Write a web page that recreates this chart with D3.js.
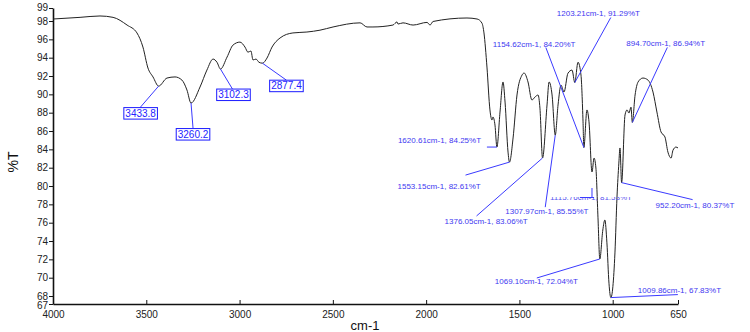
<!DOCTYPE html>
<html>
<head>
<meta charset="utf-8">
<title>IR</title>
<script src="https://cdn.jsdelivr.net/npm/d3@7/dist/d3.min.js"></script>
<style>
  body { margin: 0; background: #fff; }
  text { font-family: "Liberation Sans", Arial, sans-serif; }
</style>
</head>
<body>
<svg width="750" height="332" id="mainsvg" style="display:block"></svg>
<script>
// spectrum
const wavenumber = [4000, 3855, 3748, 3678, 3603, 3550, 3518, 3491, 3464, 3433.8,
  3389, 3346, 3309, 3282, 3260.2, 3212, 3175, 3142, 3121, 3102.3,
  3067, 3035, 2998, 2971, 2955, 2939, 2928, 2912, 2896, 2877.4,
  2853, 2826, 2783, 2714, 2639, 2569, 2499, 2354, 2317, 2285,
  2178, 2156, 2151, 2124, 2070, 1995, 1979, 1963, 1781, 1727,
  1701, 1690, 1674, 1658, 1647, 1642, 1631, 1620.61, 1604, 1588,
  1577, 1561, 1553.15, 1534, 1513, 1486, 1475, 1454, 1433, 1417,
  1400, 1390, 1376.05, 1352, 1341, 1325, 1307.97, 1293, 1277, 1261,
  1240, 1218, 1203.21, 1186, 1170, 1159, 1154.62, 1138, 1127, 1111,
  1100, 1090, 1079, 1069.10, 1053, 1042, 1031, 1020, 1009.86, 988,
  977, 967, 961, 952.20, 934, 923, 913, 902, 894.70, 880,
  864, 838, 811, 784, 763, 741, 720, 704, 687, 677,
  661, 650];
const transmittance = [98.22, 98.4, 98.55, 98.4, 97.56, 96.7, 95.16, 92.87, 91.9, 90.9,
  91.78, 91.9, 91.56, 90.47, 89.05, 90.8, 92.65, 93.85, 93.5, 92.76,
  94.07, 95.38, 95.7, 95.16, 94.6, 94.73, 93.75, 93.85, 93.5, 93.4,
  93.96, 95.16, 96.15, 96.7, 96.8, 97.0, 97.35, 97.8, 97.35, 97.35,
  97.56, 97.9, 97.67, 97.8, 97.56, 97.85, 97.56, 97.95, 98.33, 98.22,
  97.78, 96.7, 92.98, 88.3, 87.2, 87.53, 86.65, 84.25, 88.07, 91.35,
  89.16, 83.7, 82.61, 85.24, 89.93, 92.1, 92.33, 91.35, 89.38, 89.7,
  89.93, 88.5, 83.06, 88.84, 91.35, 89.93, 85.55, 88.84, 91.0, 90.25,
  92.3, 92.65, 91.29, 93.5, 92.1, 87.0, 84.2, 88.3, 87.0, 81.53,
  83.05, 81.96, 76.6, 72.04, 75.2, 76.3, 73.8, 69.4, 67.83, 72.7,
  78.8, 82.5, 84.15, 80.37, 87.75, 88.3, 87.96, 88.6, 86.94, 89.93,
  91.35, 91.78, 91.56, 90.25, 88.07, 85.9, 85.35, 83.7, 83.05, 83.9,
  84.25, 84.15];

// boxed peak picks (left part)
const boxPeakWn = [3433.8, 3260.2, 3102.3, 2877.4];
const boxPeakT = [90.9, 89.05, 92.76, 93.4];

// peak picks with full labels
const peakWn = [1620.61, 1553.15, 1376.05, 1307.97, 1203.21, 1154.62, 1069.10, 1009.86, 952.20, 894.70];
const peakT = [84.25, 82.61, 83.06, 85.55, 91.29, 84.20, 72.04, 67.83, 80.37, 86.94];

// axis
const xDomain = [4000, 650];
const yDomain = [67.13, 99.42];
const xTickValues = [4000, 3500, 3000, 2500, 2000, 1500, 1000, 650];
const yTickValues = [67.13, 68, 70, 72, 74, 76, 78, 80, 82, 84, 86, 88, 90, 92, 94, 96, 98, 99.42];

let svg = d3.select('#mainsvg');
const x = d3.scaleLinear().domain(xDomain).range([53, 678]);
const y = d3.scaleLinear().domain(yDomain).range([304, 8]);

// axes
const gx = svg.append('g').attr('transform', 'translate(0,304)')
  .call(d3.axisBottom(x).tickValues(xTickValues).tickFormat(d3.format('d'))
    .tickSizeInner(-4).tickSizeOuter(0).tickPadding(7));
const gy = svg.append('g').attr('transform', 'translate(53,0)')
  .call(d3.axisLeft(y).tickValues(yTickValues).tickFormat(d3.format('.0f'))
    .tickSizeInner(4).tickSizeOuter(0).tickPadding(1));
[gx, gy].forEach(g => {
  g.select('.domain').attr('stroke', '#111').attr('stroke-width', 1.6);
  g.selectAll('.tick line').attr('stroke', '#111');
  g.selectAll('.tick text').attr('font-size', 10).attr('fill', '#222')
    .attr('font-family', '"Liberation Sans", Arial, sans-serif');
});
// end labels sit tight against their neighbours
gy.selectAll('.tick text').filter(d => d === yDomain[0]).attr('dy', '0.45em');
gy.selectAll('.tick text').filter(d => d === yDomain[1]).attr('dy', '0.2em');

svg.append('text').attr('x', 365).attr('y', 330).attr('text-anchor', 'middle')
  .attr('font-size', 13).attr('fill', '#111').text('cm-1');
svg.append('text').attr('transform', 'translate(18,162) rotate(-90)')
  .attr('text-anchor', 'middle').attr('font-size', 14).attr('fill', '#111').text('%T');

// spectrum
const pts = wavenumber.map((w, i) => [w, transmittance[i]]);
svg.append('path').datum(pts)
  .attr('fill', 'none').attr('stroke', '#222').attr('stroke-width', 1)
  .attr('d', d3.line().x(d => x(d[0])).y(d => y(d[1])).curve(d3.curveMonotoneX));

// boxed labels: offsets from the peak point (box centre, leader end)
const boxLayout = [
  {bx: -18, by: 27, lx: -19, ly: 22},
  {bx: 2, by: 31, lx: 2, ly: 25},
  {bx: 13, by: 25.5, lx: 12, ly: 20},
  {bx: 24, by: 22.5, lx: 24, ly: 17}
];
boxPeakWn.forEach((w, i) => {
  const px = x(w), py = y(boxPeakT[i]), L = boxLayout[i];
  svg.append('line').attr('x1', px).attr('y1', py)
    .attr('x2', px + L.lx).attr('y2', py + L.ly)
    .attr('stroke', '#3a3aff').attr('stroke-width', 1);
  const g = svg.append('g');
  const rect = g.append('rect');
  const t = g.append('text').attr('x', px + L.bx).attr('y', py + L.by + 3.6)
    .attr('text-anchor', 'middle').attr('font-size', 10).attr('fill', '#2424ff')
    .text(w.toFixed(1));
  const bw = t.node().getComputedTextLength();
  rect.attr('x', px + L.bx - bw / 2 - 1.5).attr('y', py + L.by - 5.5)
    .attr('width', bw + 3).attr('height', 11.5)
    .attr('fill', '#fff').attr('stroke', '#1a1aff').attr('stroke-width', 1);
});

// full labels: offsets from the peak point (text start, leader end)
const labelLayout = [
  {tx: -99, ty: -4, lx: -10, ly: 0},
  {tx: -112, ty: 27, lx: -44, ly: 13},
  {tx: -98, ty: 66, lx: -66, ly: 58},
  {tx: -50, ty: 79, lx: -10, ly: 72},
  {tx: -18, ty: -67, lx: 36, ly: -65},
  {tx: -91, ty: -101, lx: -38, ly: -100},
  {tx: -105, ty: 25, lx: -63, ly: 19},
  {tx: 27, ty: -5, lx: 67, ly: -3},
  {tx: 34, ty: 25, lx: 71, ly: 17},
  {tx: -6, ty: -76, lx: 35, ly: -75}
];
peakWn.forEach((w, i) => {
  const px = x(w), py = y(peakT[i]), L = labelLayout[i];
  svg.append('line').attr('x1', px).attr('y1', py)
    .attr('x2', px + L.lx).attr('y2', py + L.ly)
    .attr('stroke', '#3a3aff').attr('stroke-width', 1);
  svg.append('text').attr('x', px + L.tx).attr('y', py + L.ty)
    .attr('font-size', 8).attr('fill', '#4038f0')
    .text(w.toFixed(2) + 'cm-1, ' + peakT[i].toFixed(2) + '%T');
});

// the half hidden label near 1111 cm-1
svg.append('clipPath').attr('id', 'cut').append('rect')
  .attr('x', 540).attr('y', 197).attr('width', 100).attr('height', 5);
svg.append('text').attr('x', 550).attr('y', 200).attr('clip-path', 'url(#cut)')
  .attr('font-size', 8).attr('fill', '#5a55f0').text('1115.76cm-1, 81.53%T');
svg.append('line').attr('x1', x(1111)).attr('y1', 188).attr('x2', x(1111)).attr('y2', 197.5)
  .attr('stroke', '#3a3aff').attr('stroke-width', 1);
svg.append('line').attr('x1', x(1111) - 12).attr('y1', 197.5).attr('x2', x(1111) + 2).attr('y2', 197.5)
  .attr('stroke', '#3a3aff').attr('stroke-width', 1);
</script>
</body>
</html>
